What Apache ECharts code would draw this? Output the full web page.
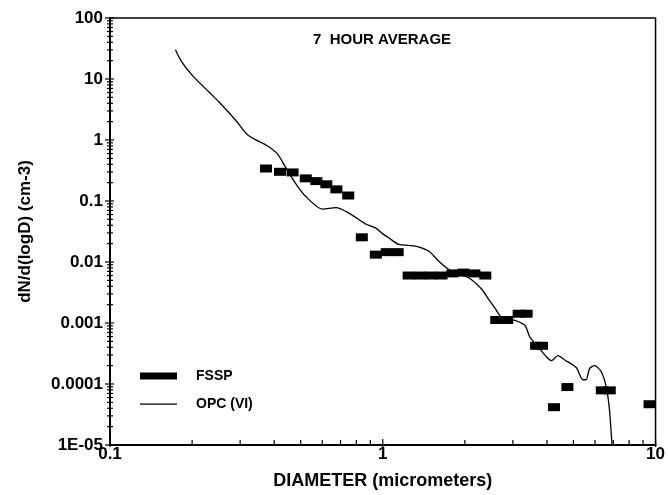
<!DOCTYPE html>
<html>
<head>
<meta charset="utf-8">
<script src="https://cdn.jsdelivr.net/npm/echarts@6/dist/echarts.min.js"></script>
<style>html,body{margin:0;padding:0;background:#fff;}#c{width:668px;height:495px;}</style>
</head>
<body>
<div id="c"></div>
<script>
// ---- data ----
var titleText = '7  HOUR AVERAGE';
var xAxisName = 'DIAMETER (micrometers)';
var yAxisName = 'dN/d(logD) (cm-3)';
var seriesNames = ['FSSP', 'OPC (VI)'];

var yTickValues = [1e-5, 1e-4, 1e-3, 1e-2, 1e-1, 1, 10, 100];
var yTickLabels = ['1E-05', '0.0001', '0.001', '0.01', '0.1', '1', '10', '100'];
var xTickValues = [0.1, 1, 10];
var xTickLabels = ['0.1', '1', '10'];
var minorMultipliers = [2, 3, 4, 5, 6, 7, 8, 9];

// FSSP bins (diameter, concentration)
var fsspD = [0.373, 0.420, 0.467, 0.522, 0.571, 0.621, 0.676, 0.747,
             0.838, 0.943, 1.034, 1.134,
             1.244, 1.365, 1.497, 1.642, 1.801, 1.975, 2.167, 2.376,
             2.606, 2.858, 3.149, 3.368, 3.648, 3.837,
             4.243, 4.753, 6.353, 6.794, 9.507];
var fsspN = [0.341, 0.301, 0.294, 0.235, 0.212, 0.188, 0.155, 0.123,
             0.0254, 0.0132, 0.0145, 0.0145,
             0.0060, 0.0060, 0.0060, 0.0060, 0.0065, 0.0067, 0.0065, 0.0060,
             0.00112, 0.00112, 0.00142, 0.00142, 0.000423, 0.000423,
             0.0000417, 0.0000891, 0.0000787, 0.0000787, 0.0000466];

// OPC (VI) curve
var opcD = [0.1737, 0.1827, 0.2014, 0.2317, 0.252, 0.2884, 0.3216, 0.3757, 0.4103, 0.4388,
            0.4815, 0.5223, 0.6006, 0.674, 0.7513, 0.865, 0.9406, 1.0, 1.052, 1.144,
            1.316, 1.472, 1.601, 1.741, 1.894, 2.06, 2.303, 2.437, 2.578, 2.725,
            3.05, 3.318, 3.459, 3.709, 3.978, 4.149, 4.388, 4.643, 5.119, 5.415,
            5.567, 5.728, 5.975, 6.317, 6.587, 6.776, 6.909, 6.966];
var opcN = [30.2, 19.5, 11.15, 5.99, 4.12, 2.13, 1.18, 0.814, 0.597, 0.367,
            0.1875, 0.1183, 0.0736, 0.0778, 0.0634, 0.042, 0.0362, 0.0289, 0.0249, 0.0194,
            0.01826, 0.01514, 0.01042, 0.00761, 0.00632, 0.00558, 0.0036, 0.00248, 0.00175, 0.00125,
            0.001106, 0.000918, 0.000593, 0.000408, 0.00028, 0.000242, 0.000291, 0.000248, 0.000186, 0.0001174,
            0.0001174, 0.000179, 0.0002, 0.00016, 0.0000914, 0.0000387, 0.0000117, 0.000008];

// ---- build ----
var fsspData = fsspD.map(function (d, i) { return [d, fsspN[i]]; });
var opcData = opcD.map(function (d, i) { return [d, opcN[i]]; });

// tick marks (axis decoration) built from decades x multipliers
var tickData = [];
yTickValues.forEach(function (v, i) {
  tickData.push(['y', v, 1]);
  if (i < yTickValues.length - 1) minorMultipliers.forEach(function (m) { tickData.push(['y', v * m, 0]); });
});
xTickValues.forEach(function (v, i) {
  tickData.push(['x', v, 1]);
  if (i < xTickValues.length - 1) minorMultipliers.forEach(function (m) { tickData.push(['x', v * m, 0]); });
});

function labelFor(values, labels) {
  return function (val) {
    var lv = Math.round(Math.log10(val));
    for (var i = 0; i < values.length; i++) {
      if (Math.round(Math.log10(values[i])) === lv) return labels[i];
    }
    return '';
  };
}

var FONT = 'Liberation Sans, Arial, sans-serif';
var lineIcon = 'path://M0,0 L0.01,0 L0.01,0.01 Z M0,2.9 L37,2.9 L37,4.2 L0,4.2 Z M0,7 L0.01,7 L0.01,6.99 Z';
var chart = echarts.init(document.getElementById('c'), null, { renderer: 'canvas' });
chart.setOption({
  backgroundColor: '#fff',
  animation: false,
  title: {
    text: titleText, left: 308, top: 27,
    textStyle: { fontFamily: FONT, fontSize: 15, fontWeight: 'bold', color: '#000' }
  },
  legend: {
    orient: 'vertical', left: 140, top: 369, padding: 0,
    itemWidth: 37, itemHeight: 7, itemGap: 14,
    textStyle: { fontFamily: FONT, fontSize: 14, fontWeight: 'bold', color: '#000', lineHeight: 14, padding: [0, 0, 0, 14] },
    data: [
      { name: seriesNames[0], icon: 'rect', itemStyle: { color: '#000', opacity: 1 } },
      { name: seriesNames[1], icon: lineIcon, itemStyle: { color: '#000', opacity: 1 } }
    ]
  },
  grid: { left: 110, right: 10, top: 18, bottom: 46, show: true, borderColor: '#000', borderWidth: 1.5, backgroundColor: 'transparent' },
  xAxis: {
    type: 'log', logBase: 10, min: 0.1, max: 10, interval: 1,
    name: xAxisName, nameLocation: 'middle', nameGap: 27,
    nameTextStyle: { fontFamily: FONT, fontSize: 18, fontWeight: 'bold', color: '#000' },
    axisLine: { lineStyle: { color: '#000', width: 2 } },
    axisTick: { show: false },
    splitLine: { show: false },
    axisLabel: { margin: 1, fontFamily: FONT, fontSize: 17, fontWeight: 'bold', color: '#000', formatter: labelFor(xTickValues, xTickLabels) }
  },
  yAxis: {
    type: 'log', logBase: 10, min: 1e-5, max: 100, interval: 1,
    name: yAxisName, nameLocation: 'middle', nameGap: 76,
    nameTextStyle: { fontFamily: FONT, fontSize: 17, fontWeight: 'bold', color: '#000' },
    axisLine: { lineStyle: { color: '#000', width: 2 } },
    axisTick: { show: false },
    splitLine: { show: false },
    axisLabel: { margin: 7, fontFamily: FONT, fontSize: 17, fontWeight: 'bold', color: '#000', formatter: labelFor(yTickValues, yTickLabels) }
  },
  series: [
    {
      name: seriesNames[0], type: 'scatter', data: fsspData,
      symbol: 'rect', symbolSize: [12, 8],
      itemStyle: { color: '#000', opacity: 1 }, z: 3
    },
    {
      name: seriesNames[1], type: 'line', data: opcData,
      symbol: 'none', showSymbol: false, smooth: 0.25, clip: true,
      lineStyle: { color: '#000', width: 1.3 }, itemStyle: { color: '#000' }, z: 2
    },
    {
      type: 'custom', silent: true, data: tickData, clip: false, z: 4,
      renderItem: function (params, api) {
        var axis = tickData[params.dataIndex][0];
        var v = tickData[params.dataIndex][1];
        var major = tickData[params.dataIndex][2];
        var p;
        if (axis === 'y') {
          p = api.coord([0.1, v]);
          return { type: 'line', shape: { x1: p[0] - (major ? 5 : 3), y1: p[1], x2: p[0] + (major ? 4 : 3), y2: p[1] }, style: { stroke: '#000', lineWidth: 1.2 } };
        } else {
          p = api.coord([v, 1e-5]);
          return { type: 'line', shape: { x1: p[0], y1: p[1] - (major ? 6 : 5), x2: p[0], y2: p[1] + (major ? 2 : 1) }, style: { stroke: '#000', lineWidth: 1.2 } };
        }
      }
    }
  ]
});
</script>
</body>
</html>
